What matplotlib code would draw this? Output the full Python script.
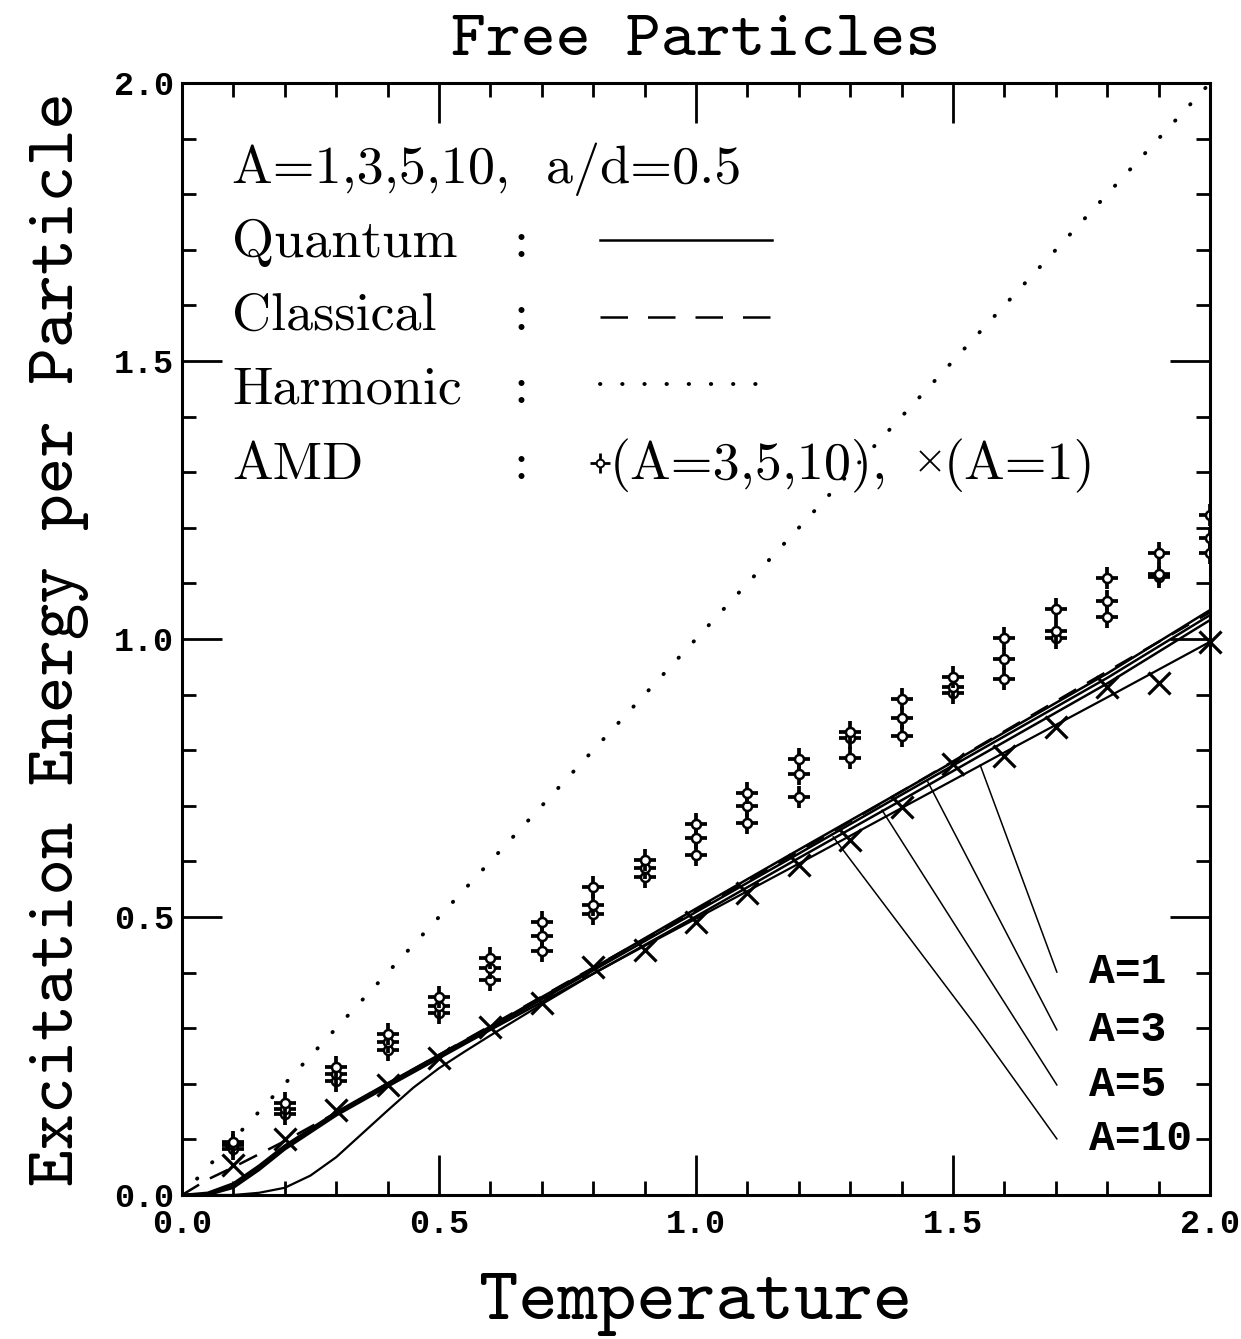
import numpy as np
import matplotlib.pyplot as plt

# AMD results, one temperature grid for all sets
amd_t = [0.1, 0.2, 0.3, 0.4, 0.5, 0.6, 0.7, 0.8, 0.9, 1.0,
         1.1, 1.2, 1.3, 1.4, 1.5, 1.6, 1.7, 1.8, 1.9, 2.0]
amd_a10 = [0.095, 0.165, 0.230, 0.290, 0.356, 0.426, 0.491, 0.554, 0.602, 0.667,
           0.723, 0.784, 0.833, 0.892, 0.932, 1.002, 1.054, 1.110, 1.155, 1.223]
amd_a5 = [0.090, 0.155, 0.218, 0.275, 0.340, 0.408, 0.466, 0.522, 0.588, 0.642,
          0.700, 0.757, 0.822, 0.858, 0.914, 0.964, 1.014, 1.068, 1.117, 1.182]
amd_a3 = [0.083, 0.145, 0.205, 0.260, 0.327, 0.387, 0.439, 0.505, 0.572, 0.612,
          0.669, 0.716, 0.786, 0.826, 0.903, 0.928, 1.001, 1.040, 1.112, 1.155]
amd_a1 = [0.054, 0.100, 0.153, 0.198, 0.246, 0.302, 0.345, 0.410, 0.440, 0.491,
          0.543, 0.594, 0.638, 0.698, 0.775, 0.790, 0.842, 0.914, 0.921, 0.995]

# quantum curves
q1_t = [0.0, 0.1, 0.15, 0.2, 0.25, 0.3, 0.35, 0.4, 0.45, 0.5, 0.55, 0.6, 0.65,
        0.7, 0.8, 0.9, 1.0, 1.2, 1.4, 1.6, 1.8, 2.0]
q1_e = [0.0, 0.0, 0.004, 0.013, 0.035, 0.068, 0.110, 0.152, 0.193, 0.228, 0.258,
        0.287, 0.315, 0.343, 0.398, 0.448, 0.497, 0.596, 0.696, 0.796, 0.895, 0.995]
q_t = [0.0, 0.05, 0.1, 0.15, 0.2, 0.3, 0.4, 0.5, 0.6, 0.7, 0.8, 1.0, 1.2, 1.4,
       1.6, 1.8, 2.0]
q3_e = [0.0, 0.0, 0.013, 0.045, 0.082, 0.143, 0.195, 0.246, 0.297, 0.347, 0.398,
        0.501, 0.606, 0.710, 0.815, 0.920, 1.034]
q5_e = [0.0, 0.002, 0.017, 0.049, 0.085, 0.146, 0.198, 0.249, 0.300, 0.352, 0.404,
        0.509, 0.614, 0.720, 0.825, 0.930, 1.043]
q10_e = [0.0, 0.004, 0.021, 0.053, 0.089, 0.149, 0.201, 0.252, 0.303, 0.356, 0.408,
         0.515, 0.621, 0.726, 0.832, 0.938, 1.052]

# classical and harmonic limits
cl_t = [0.0, 0.05, 0.1, 0.2, 0.3, 0.5, 0.75, 1.0, 1.25, 1.5, 1.75, 2.0]
cl_e = [0.0, 0.028, 0.050, 0.097, 0.148, 0.252, 0.383, 0.512, 0.645, 0.780, 0.915, 1.048]
harm_t = [0.0, 2.0]
harm_e = [0.0, 2.0]

# label pointers: (T, E) from curve to label
ptr_labels = ['A=1', 'A=3', 'A=5', 'A=10']
ptr_t = [[1.553, 1.702], [1.451, 1.702], [1.362, 1.702], [1.267, 1.543, 1.702]]
ptr_e = [[0.773, 0.401], [0.743, 0.297], [0.692, 0.198], [0.644, 0.306, 0.101]]

ticks = [0.0, 0.5, 1.0, 1.5, 2.0]
tick_labels = ['0.0', '0.5', '1.0', '1.5', '2.0']

W, H = 1241, 1339
fig = plt.figure(figsize=(W / 100, H / 100), dpi=100)
ax = fig.add_axes([182 / W, 1 - 1195 / H, 1028 / W, 1112 / H])

lw_q = 1.8
dots = (0, (0.1, 5.6))
ax.plot(harm_t, harm_e, color='k', lw=2.8, linestyle=dots, dash_capstyle='round')
ax.plot(cl_t, cl_e, color='k', lw=lw_q, linestyle=(0, (8, 5)))
ax.plot(q1_t, q1_e, color='k', lw=1.6)
for e in (q3_e, q5_e, q10_e):
    ax.plot(q_t, e, color='k', lw=lw_q)

for e in (amd_a3, amd_a5, amd_a10):
    ax.plot(amd_t, e, ls='none', marker='+', ms=16, mew=2.7, color='k')
    ax.plot(amd_t, e, ls='none', marker='o', ms=6.5, mew=1.8, mfc='white', mec='k')
ax.plot(amd_t, amd_a1, ls='none', marker='x', ms=16, mew=2.3, color='k',
        clip_on=False)

for lab, pt, pe in zip(ptr_labels, ptr_t, ptr_e):
    ax.plot(pt, pe, color='k', lw=1.1)
    ax.text(1.765, pe[-1], lab, fontsize=31, family='Liberation Mono',
            weight='bold', va='center', ha='left')

# key in the upper left corner
txt = dict(family='cmr10', fontsize=39, va='center', transform=ax.transAxes)
ax.text(0.0486, 0.922, 'A=1,3,5,10,  a/d=0.5', **txt)
rows = ['Quantum', 'Classical', 'Harmonic', 'AMD']
rows_y = [0.856, 0.790, 0.724, 0.656]
for name, y in zip(rows, rows_y):
    ax.text(0.0486, y, name, **txt)
    ax.text(0.322, y, ':', **txt)
kx = [0.4066, 0.574]
ax.plot(kx, [0.859, 0.859], color='k', lw=lw_q, transform=ax.transAxes)
ax.plot(kx, [0.790, 0.790], color='k', lw=lw_q, linestyle=(0, (11, 8)),
        transform=ax.transAxes)
ax.plot(kx, [0.729, 0.729], color='k', lw=2.8, linestyle=dots,
        dash_capstyle='round', transform=ax.transAxes)
ax.plot([0.4066], [0.658], marker='+', ms=15, mew=2.0, color='k',
        transform=ax.transAxes)
ax.plot([0.4066], [0.658], marker='o', ms=5.5, mew=1.4, mfc='white', mec='k',
        transform=ax.transAxes)
ax.text(0.416, 0.656, '(A=3,5,10),', **txt)
ax.plot([0.728], [0.660], marker='x', ms=14, mew=1.3, color='k',
        transform=ax.transAxes)
ax.text(0.741, 0.656, '(A=1)', **txt)

ax.set_xlim(0, 2)
ax.set_ylim(0, 2)
ax.set_xticks(ticks)
ax.set_yticks(ticks)
tfont = dict(family='Liberation Mono', weight='bold', fontsize=24)
ax.set_xticklabels(tick_labels, **tfont)
ax.set_yticklabels(tick_labels, **tfont)
ax.set_xticks(np.arange(0, 2.01, 0.1), minor=True)
ax.set_yticks(np.arange(0, 2.01, 0.1), minor=True)
ax.tick_params(which='both', direction='in', top=True, right=True, width=2)
ax.tick_params(which='major', length=29, pad=10)
ax.tick_params(which='minor', length=10)
ax.tick_params(axis='y', which='major', pad=6)
for s in ax.spines.values():
    s.set_linewidth(2.2)

ax.set_title('Free Particles', family='cmtt10', fontsize=48, pad=20)
ax.set_xlabel('Temperature', family='cmtt10', fontsize=54, labelpad=24)
ax.set_ylabel('Excitation Energy per Particle', family='cmtt10', fontsize=50,
              labelpad=18)

fig.savefig('out.png', dpi=100, facecolor='white')
